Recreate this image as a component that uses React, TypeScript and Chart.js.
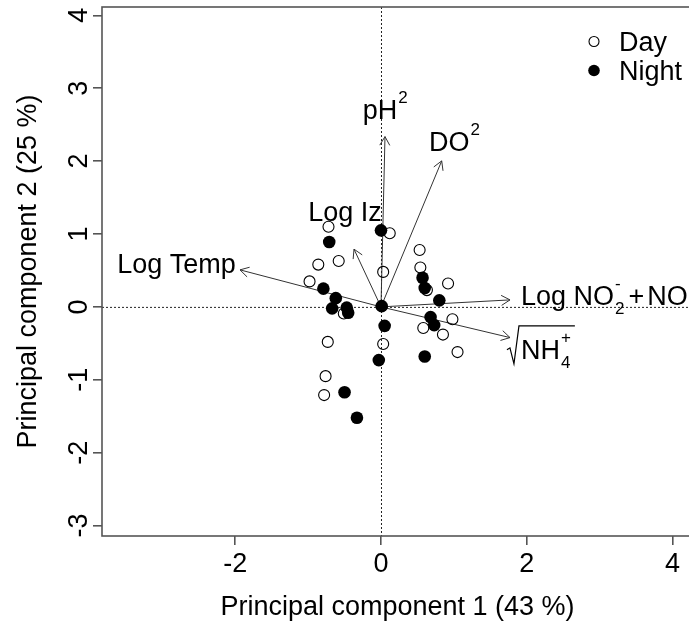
import React, { useEffect, useRef } from 'react';
import { Chart, registerables } from 'chart.js';

Chart.register(...registerables);

const FONT = "'Liberation Sans', Arial, sans-serif";
const MAIN = 27;
const SCRIPT = 17;

// ---- data ----
const seriesNames = ['Day', 'Night'];
const dayX = [-0.72, 0.12, 0.53, -0.86, -0.58, 0.03, 0.54, 0.63, 0.92, -0.98, -0.51, 0.98, 0.58, 0.85, 0.03, -0.73, 1.05, -0.76, -0.78];
const dayY = [1.10, 1.01, 0.78, 0.58, 0.63, 0.48, 0.54, 0.23, 0.32, 0.35, -0.09, -0.17, -0.29, -0.38, -0.51, -0.48, -0.62, -0.95, -1.21];
const nightX = [0.00, -0.71, 0.57, 0.60, -0.79, -0.62, 0.80, -0.67, -0.47, -0.45, 0.01, 0.68, 0.73, 0.05, 0.60, -0.03, -0.50, -0.33];
const nightY = [1.05, 0.89, 0.40, 0.26, 0.25, 0.12, 0.09, -0.02, -0.01, -0.08, 0.01, -0.14, -0.25, -0.26, -0.68, -0.73, -1.17, -1.52];

// loading vectors (arrow tips)
const loadingNames = ['Log Temp', 'Log Iz', 'pH^2', 'DO^2', 'Log NO2- + NO3-', 'sqrt(NH4+)'];
const loadingX = [-1.934, -0.370, 0.055, 0.833, 1.770, 1.770];
const loadingY = [0.508, 0.792, 2.336, 2.003, 0.096, -0.421];
// label anchors (left end of text baseline), data units
const labelX = [-3.617, -0.997, -0.250, 0.658, 1.920, 1.920];
const labelY = [0.470, 1.180, 2.572, 2.140, 0.027, -0.713];

const xTicks = [-2, 0, 2, 4];
const yTicks = [-3, -2, -1, 0, 1, 2, 3, 4];
const xTitle = 'Principal component 1 (43 %)';
const yTitle = 'Principal component 2 (25 %)';
const xMin = -3.827, xMax = 4.28;
const yMin = -3.143, yMax = 4.114;

type Part = { t?: string; sup?: string; sub?: string; op?: string; sqrt?: Part[] };
const labelParts: Part[][] = [
  [{ t: 'Log Temp' }],
  [{ t: 'Log Iz' }],
  [{ t: 'pH' }, { sup: '2' }],
  [{ t: 'DO' }, { sup: '2' }],
  [{ t: 'Log NO' }, { sub: '2', sup: '-' }, { op: '+' }, { t: 'NO' }, { sub: '3', sup: '-' }],
  [{ sqrt: [{ t: 'NH' }, { sub: '4', sup: '+' }] }],
];

const mainFont = `${MAIN}px ${FONT}`;
const scriptFont = `${SCRIPT}px ${FONT}`;

function drawParts(ctx: CanvasRenderingContext2D, parts: Part[], x0: number, y: number): number {
  let x = x0;
  for (const p of parts) {
    if (p.t !== undefined) {
      ctx.font = mainFont;
      ctx.fillText(p.t, x, y);
      x += ctx.measureText(p.t).width;
    } else if (p.op !== undefined) {
      ctx.font = mainFont;
      x += 4;
      ctx.fillText(p.op, x, y);
      x += ctx.measureText(p.op).width + 3;
    } else if (p.sqrt) {
      const start = x;
      const end = drawParts(ctx, p.sqrt, x, y);
      ctx.save();
      ctx.lineWidth = 1.2;
      ctx.strokeStyle = '#000';
      ctx.beginPath();
      ctx.moveTo(start - 14, y - 9);
      ctx.lineTo(start - 11, y - 11);
      ctx.lineTo(start - 7, y + 5);
      ctx.lineTo(start - 2, y - 33);
      ctx.lineTo(end + 4, y - 33);
      ctx.stroke();
      ctx.restore();
      x = end;
    } else {
      ctx.font = scriptFont;
      let w = 0;
      if (p.sub !== undefined) {
        ctx.fillText(p.sub, x + 1, y + 9);
        w = Math.max(w, ctx.measureText(p.sub).width);
      }
      if (p.sup !== undefined) {
        ctx.fillText(p.sup, x + 1, y - 16);
        w = Math.max(w, ctx.measureText(p.sup).width);
      }
      x += w + 1;
    }
  }
  return x;
}

const biplotPlugin = {
  id: 'biplot',
  beforeDatasetsDraw(chart: any) {
    const { ctx, chartArea: a, scales: { x, y } } = chart;
    const ox = x.getPixelForValue(0);
    const oy = y.getPixelForValue(0);
    ctx.save();
    // dotted zero lines
    ctx.strokeStyle = '#222';
    ctx.lineWidth = 1;
    ctx.setLineDash([2, 2]);
    ctx.beginPath();
    ctx.moveTo(a.left, oy + 0.5);
    ctx.lineTo(a.right, oy + 0.5);
    ctx.moveTo(ox + 0.5, a.top);
    ctx.lineTo(ox + 0.5, a.bottom);
    ctx.stroke();
    ctx.setLineDash([]);
    // arrows
    ctx.strokeStyle = '#333';
    ctx.lineWidth = 1;
    for (let i = 0; i < loadingX.length; i++) {
      const tx = x.getPixelForValue(loadingX[i]);
      const ty = y.getPixelForValue(loadingY[i]);
      const ang = Math.atan2(ty - oy, tx - ox);
      const L = 10, h = Math.PI / 6;
      ctx.beginPath();
      ctx.moveTo(ox, oy);
      ctx.lineTo(tx, ty);
      ctx.moveTo(tx - L * Math.cos(ang - h), ty - L * Math.sin(ang - h));
      ctx.lineTo(tx, ty);
      ctx.lineTo(tx - L * Math.cos(ang + h), ty - L * Math.sin(ang + h));
      ctx.stroke();
    }
    // box
    ctx.strokeStyle = '#555';
    ctx.lineWidth = 1.6;
    ctx.strokeRect(a.left, a.top, a.right - a.left, a.bottom - a.top);
    ctx.restore();
  },
  afterDraw(chart: any) {
    const { ctx, chartArea: a, scales: { x, y } } = chart;
    ctx.save();
    ctx.fillStyle = '#000';
    ctx.textAlign = 'left';
    ctx.textBaseline = 'alphabetic';
    // loading labels
    for (let i = 0; i < labelParts.length; i++) {
      drawParts(ctx, labelParts[i], x.getPixelForValue(labelX[i]), y.getPixelForValue(labelY[i]));
    }
    // y tick labels (rotated, parallel to axis)
    ctx.font = mainFont;
    ctx.textAlign = 'center';
    ctx.textBaseline = 'middle';
    for (const v of yTicks) {
      ctx.save();
      ctx.translate(a.left - 22, y.getPixelForValue(v));
      ctx.rotate(-Math.PI / 2);
      ctx.fillText(String(v), 0, 0);
      ctx.restore();
    }
    // legend
    const lx = a.right - 99;
    ctx.lineWidth = 1.1;
    ctx.strokeStyle = '#000';
    ctx.beginPath();
    ctx.arc(lx, a.top + 34.5, 5, 0, Math.PI * 2);
    ctx.stroke();
    ctx.beginPath();
    ctx.arc(lx, a.top + 63.5, 5.8, 0, Math.PI * 2);
    ctx.fill();
    ctx.textAlign = 'left';
    ctx.textBaseline = 'alphabetic';
    ctx.font = mainFont;
    ctx.fillText(seriesNames[0], lx + 25, a.top + 44);
    ctx.fillText(seriesNames[1], lx + 25, a.top + 73);
    ctx.restore();
  },
};

export default function App() {
  const ref = useRef<HTMLCanvasElement>(null);
  useEffect(() => {
    if (!ref.current) return;
    const chart = new Chart(ref.current, {
      type: 'scatter',
      data: {
        datasets: [
          {
            label: seriesNames[0],
            data: dayX.map((v, i) => ({ x: v, y: dayY[i] })),
            pointRadius: 5.5,
            pointHoverRadius: 5.5,
            backgroundColor: 'rgba(0,0,0,0)',
            borderColor: '#000',
            borderWidth: 1.1,
            order: 1,
          },
          {
            label: seriesNames[1],
            data: nightX.map((v, i) => ({ x: v, y: nightY[i] })),
            pointRadius: 6.3,
            pointHoverRadius: 6.3,
            backgroundColor: '#000',
            borderColor: '#000',
            borderWidth: 0,
            order: 0,
          },
        ],
      },
      options: {
        responsive: false,
        animation: false,
        devicePixelRatio: 1,
        layout: { padding: { top: 7, right: 27, left: 0, bottom: 0 } },
        plugins: { legend: { display: false }, tooltip: { enabled: false } },
        scales: {
          x: {
            type: 'linear',
            min: xMin,
            max: xMax,
            afterBuildTicks: (s: any) => { s.ticks = xTicks.map((v) => ({ value: v })); },
            afterFit: (s: any) => { s.height = 91; },
            border: { display: false },
            grid: { drawOnChartArea: false, drawTicks: true, tickLength: 9, color: '#555', lineWidth: 1.6 },
            ticks: {
              color: '#000',
              font: { family: FONT, size: MAIN },
              padding: 3,
              maxRotation: 0,
              autoSkip: false,
              callback: (v: any) => String(v),
            },
            title: {
              display: true,
              text: xTitle,
              color: '#000',
              font: { family: FONT, size: MAIN },
              padding: { top: 0, bottom: 3 },
            },
          },
          y: {
            type: 'linear',
            min: yMin,
            max: yMax,
            afterBuildTicks: (s: any) => { s.ticks = yTicks.map((v) => ({ value: v })); },
            afterFit: (s: any) => { s.width = 102; },
            border: { display: false },
            grid: { drawOnChartArea: false, drawTicks: true, tickLength: 9, color: '#555', lineWidth: 1.6 },
            ticks: { display: false },
            title: {
              display: true,
              text: yTitle,
              color: '#000',
              font: { family: FONT, size: MAIN },
              padding: { top: 12, bottom: 0 },
            },
          },
        },
      },
      plugins: [biplotPlugin],
    });
    return () => chart.destroy();
  }, []);
  return (
    <div style={{ position: 'fixed', left: 0, top: 0, width: 689, height: 627, overflow: 'hidden', background: '#fff' }}>
      <canvas ref={ref} width={720} height={627} style={{ display: 'block' }} />
    </div>
  );
}
